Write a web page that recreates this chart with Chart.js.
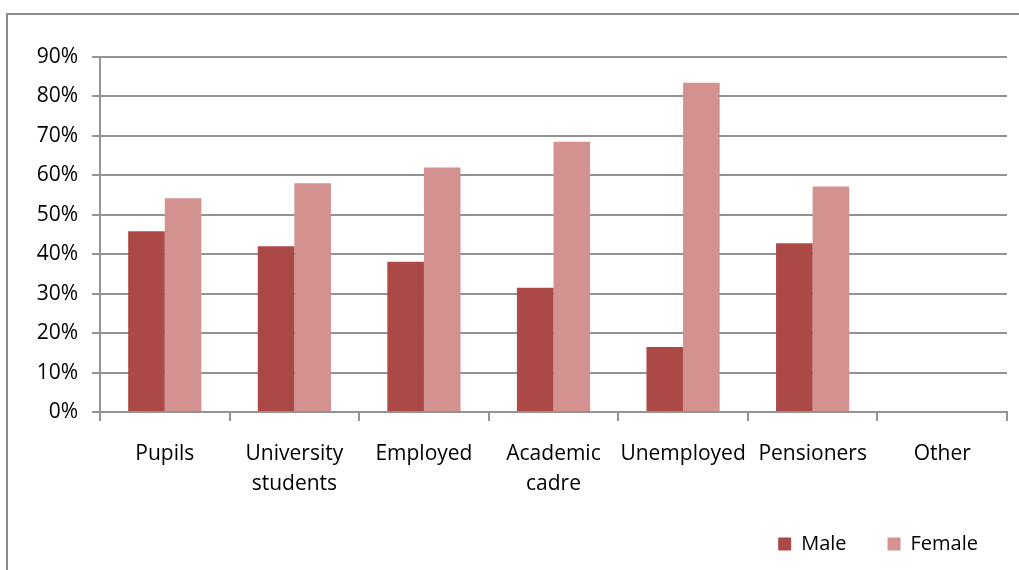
<!DOCTYPE html>
<html>
<head>
<meta charset="utf-8">
<script src="https://cdn.jsdelivr.net/npm/chart.js@4.4.1/dist/chart.umd.min.js"></script>
<style>
  html, body { margin: 0; padding: 0; background: #fff; }
  body { width: 1019px; height: 570px; position: relative; overflow: hidden; }
  #box {
    position: absolute; left: 6px; top: 13px;
    width: 1013px; height: 557px;
    border-top: 2px solid #8c8c8c; border-left: 2px solid #8c8c8c;
  }
  #wrap { position: absolute; left: 0; top: 0; width: 1011px; height: 555px; }
</style>
</head>
<body>
<div id="box"><div id="wrap"><canvas id="myChart"></canvas></div></div>
<script>
// categories and values (percent)
const categories = [
  "Pupils",
  ["University", "students"],
  "Employed",
  ["Academic", "cadre"],
  "Unemployed",
  "Pensioners",
  "Other"
];
const maleValues = [45.8, 42, 38.1, 31.5, 16.5, 42.8, 0];
const femaleValues = [54.2, 58, 62, 68.5, 83.5, 57.2, 0];
const yTicks = [0, 10, 20, 30, 40, 50, 60, 70, 80, 90];

const gridColor = '#939393';
const font = { family: "'Open Sans'", size: 21, lineHeight: 1.43 };

// nudge the legend to the right, like the original
const legendShift = {
  id: 'legendShift',
  afterLayout(chart) {
    chart.legend.left += 12;
    chart.legend.right += 12;
  }
};

const data = {
  labels: categories,
  datasets: [
    {
      label: 'Male',
      data: maleValues,
      backgroundColor: '#ab4946',
      categoryPercentage: 0.565,
      barPercentage: 1
    },
    {
      label: 'Female',
      data: femaleValues,
      backgroundColor: '#d39190',
      categoryPercentage: 0.565,
      barPercentage: 1
    }
  ]
};

const config = {
  type: 'bar',
  data: data,
  plugins: [legendShift],
  options: {
    responsive: true,
    maintainAspectRatio: false,
    animation: false,
    layout: { padding: { top: 42, right: 12, left: 0, bottom: 6 } },
    plugins: {
      tooltip: { enabled: false },
      legend: {
        position: 'bottom',
        align: 'end',
        labels: {
          boxWidth: 13,
          boxHeight: 13,
          padding: 41,
          color: '#000',
          font: { family: "'Open Sans'", size: 20 }
        }
      }
    },
    scales: {
      x: {
        grid: {
          offset: true,
          drawOnChartArea: false,
          drawTicks: true,
          tickLength: 9,
          color: gridColor,
          lineWidth: 2
        },
        border: { color: gridColor, width: 2 },
        ticks: { color: '#000', font: font, padding: 18, maxRotation: 0, autoSkip: false },
        afterFit: function (scale) { scale.height = 81; }
      },
      y: {
        min: 0,
        max: 90,
        afterBuildTicks: function (scale) {
          scale.ticks = yTicks.map(v => ({ value: v }));
        },
        grid: { color: gridColor, lineWidth: 2, tickLength: 8 },
        border: { color: gridColor, width: 2 },
        ticks: {
          color: '#000',
          font: font,
          padding: 14,
          callback: function (v) { return v + '%'; }
        },
        afterFit: function (scale) { scale.width = 92; }
      }
    }
  }
};

const myChart = new Chart(document.getElementById('myChart'), config);
</script>
</body>
</html>
